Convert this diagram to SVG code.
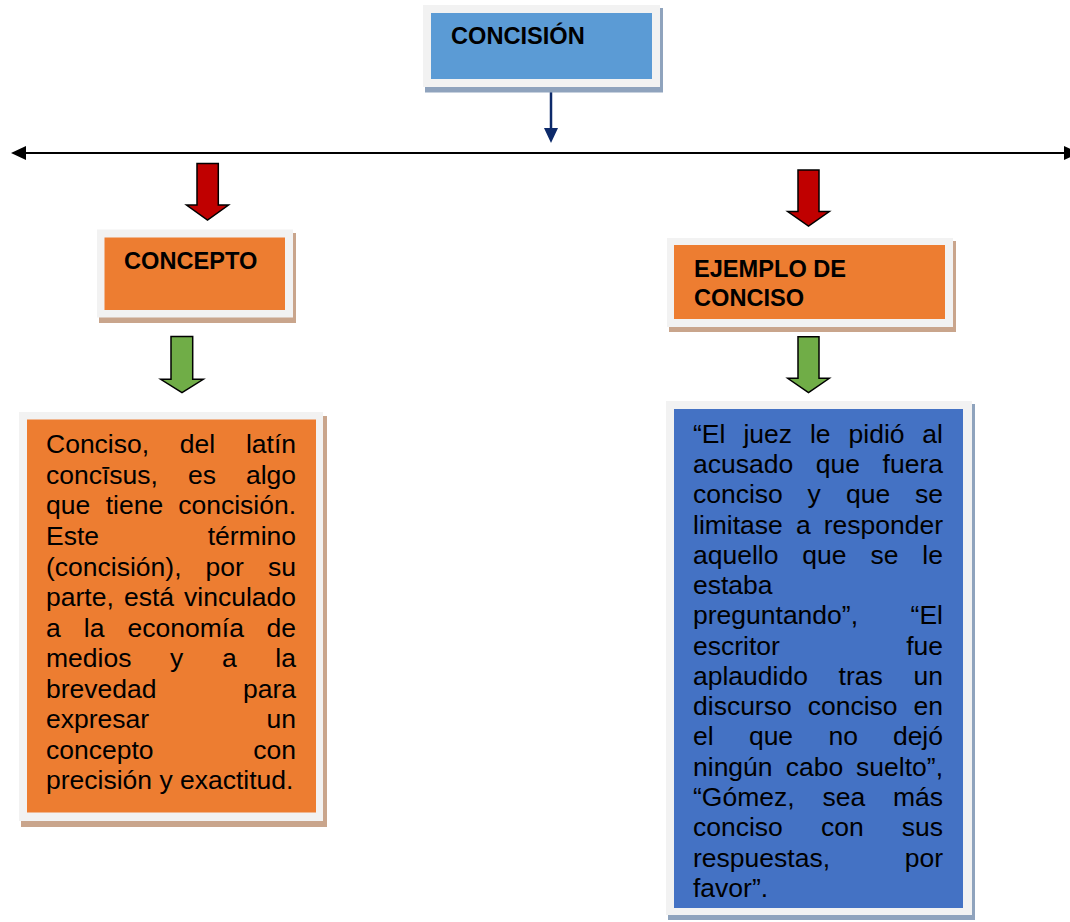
<svg xmlns="http://www.w3.org/2000/svg" width="1070" height="922" viewBox="0 0 1070 922">
<style>
.frame{fill:#F2F2F2}
.shb{fill:#8FA3BD}
.sht{fill:#C9A58C}
.title{font-family:"Liberation Sans",Arial,sans-serif;font-weight:bold;font-size:23.6px;fill:#000}
.body{font-family:"Liberation Sans",Arial,sans-serif;font-size:26.5px;fill:#000}
.e{text-anchor:end}
.red{fill:#C00000;stroke:#000;stroke-width:1.5;stroke-linejoin:miter}
.green{fill:#70AD47;stroke:#000;stroke-width:1.5;stroke-linejoin:miter}
</style>
<defs>
<marker id="blk" markerUnits="userSpaceOnUse" markerWidth="16" markerHeight="14" refX="0" refY="7" orient="auto-start-reverse">
<path d="M0,0 L15,7 L0,14 z" fill="#000"/>
</marker>
<marker id="navy" markerUnits="userSpaceOnUse" markerWidth="16" markerHeight="14" refX="0" refY="7" orient="auto">
<path d="M0,0 L15,7 L0,14 z" fill="#0D2A6A"/>
</marker>
</defs>

<g id="connectors">
<line x1="551" y1="90" x2="551" y2="128" stroke="#0D2A6A" stroke-width="2.5" marker-end="url(#navy)"/>
<line x1="26" y1="153" x2="1064" y2="153" stroke="#000" stroke-width="2.2" marker-start="url(#blk)" marker-end="url(#blk)"/>
<polygon class="red" points="197,163.5 218.3,163.5 218.3,205 228.5,205 207.5,220 186.5,205 197,205"/>
<polygon class="red" points="798,170 819,170 819,211.5 829.3,211.5 808.5,226 787.7,211.5 798,211.5"/>
<polygon class="green" points="171,336.5 192.7,336.5 192.7,379.3 203.3,379.3 182,392.7 160.7,379.3 171,379.3"/>
<polygon class="green" points="798,336.7 819,336.7 819,378.3 829.3,378.3 808.5,392.7 787.7,378.3 798,378.3"/>
</g>

<g id="concision">
<rect class="shb" x="425" y="8" width="238" height="84.5"/>
<rect class="frame" x="423" y="5" width="237" height="82"/>
<rect x="431" y="13" width="221" height="66" fill="#5B9BD5"/>
<text class="title" x="451" y="44.3">CONCISIÓN</text>
</g>

<g id="concepto">
<rect class="sht" x="99" y="233" width="197" height="90"/>
<rect class="frame" x="97" y="229.5" width="196" height="88"/>
<rect x="104.5" y="237.5" width="180.5" height="72.5" fill="#ED7D31"/>
<text class="title" x="124" y="269.3">CONCEPTO</text>
</g>

<g id="ejemplo">
<rect class="sht" x="669" y="241" width="287" height="91"/>
<rect class="frame" x="667" y="238" width="286" height="89"/>
<rect x="674" y="245" width="271" height="74" fill="#ED7D31"/>
<text class="title" x="694" y="276.7">EJEMPLO DE</text>
<text class="title" x="694" y="305.7">CONCISO</text>
</g>

<g id="definicion" class="body">
<rect class="sht" x="21" y="416" width="306" height="411"/>
<rect class="frame" x="19" y="412" width="304" height="409"/>
<rect x="27" y="419.5" width="289" height="393" fill="#ED7D31"/>
<text x="46" y="453.3">Conciso,</text><text x="179.8" y="453.3">del</text><text class="e" x="296" y="453.3">latín</text>
<text x="46" y="483.9">concīsus,</text><text x="187.9" y="483.9">es</text><text class="e" x="296" y="483.9">algo</text>
<text x="46" y="514.4">que</text><text x="105.7" y="514.4">tiene</text><text class="e" x="296" y="514.4">concisión.</text>
<text x="46" y="545">Este</text><text class="e" x="296" y="545">término</text>
<text x="46" y="575.5">(concisión),</text><text x="205.5" y="575.5">por</text><text class="e" x="296" y="575.5">su</text>
<text x="46" y="606.1">parte,</text><text x="124" y="606.1">está</text><text class="e" x="296" y="606.1">vinculado</text>
<text x="46" y="636.6">a</text><text x="83.8" y="636.6">la</text><text x="127.6" y="636.6">economía</text><text class="e" x="296" y="636.6">de</text>
<text x="46" y="667.2">medios</text><text x="169.9" y="667.2">y</text><text x="222" y="667.2">a</text><text class="e" x="296" y="667.2">la</text>
<text x="46" y="697.7">brevedad</text><text class="e" x="296" y="697.7">para</text>
<text x="46" y="728.3">expresar</text><text class="e" x="296" y="728.3">un</text>
<text x="46" y="758.8">concepto</text><text class="e" x="296" y="758.8">con</text>
<text x="46" y="789.4">precisión y exactitud.</text>
</g>

<g id="ejemplos" class="body">
<rect class="shb" x="668" y="404" width="307" height="516"/>
<rect class="frame" x="666" y="401" width="306" height="514"/>
<rect x="674" y="409" width="289" height="499" fill="#4472C4"/>
<text x="693" y="442.7">“El</text><text x="743.4" y="442.7">juez</text><text x="809.9" y="442.7">le</text><text x="848.6" y="442.7">pidió</text><text class="e" x="943" y="442.7">al</text>
<text x="693" y="473">acusado</text><text x="815.8" y="473">que</text><text class="e" x="943" y="473">fuera</text>
<text x="693" y="503.2">conciso</text><text x="807.6" y="503.2">y</text><text x="846" y="503.2">que</text><text class="e" x="943" y="503.2">se</text>
<text x="693" y="533.5">limitase</text><text x="796" y="533.5">a</text><text class="e" x="943" y="533.5">responder</text>
<text x="693" y="563.8">aquello</text><text x="802.3" y="563.8">que</text><text x="870.4" y="563.8">se</text><text class="e" x="943" y="563.8">le</text>
<text x="693" y="594">estaba</text>
<text x="693" y="624.3">preguntando”,</text><text class="e" x="943" y="624.3">“El</text>
<text x="693" y="654.6">escritor</text><text class="e" x="943" y="654.6">fue</text>
<text x="693" y="684.9">aplaudido</text><text x="838.6" y="684.9">tras</text><text class="e" x="943" y="684.9">un</text>
<text x="693" y="715.1">discurso</text><text x="807.7" y="715.1">conciso</text><text class="e" x="943" y="715.1">en</text>
<text x="693" y="745.4">el</text><text x="748.9" y="745.4">que</text><text x="828.4" y="745.4">no</text><text class="e" x="943" y="745.4">dejó</text>
<text x="693" y="775.7">ningún</text><text x="785.7" y="775.7">cabo</text><text class="e" x="943" y="775.7">suelto”,</text>
<text x="693" y="805.9">“Gómez,</text><text x="822.4" y="805.9">sea</text><text class="e" x="943" y="805.9">más</text>
<text x="693" y="836.2">conciso</text><text x="820.9" y="836.2">con</text><text class="e" x="943" y="836.2">sus</text>
<text x="693" y="866.5">respuestas,</text><text class="e" x="943" y="866.5">por</text>
<text x="693" y="896.8">favor”.</text>
</g>
</svg>
